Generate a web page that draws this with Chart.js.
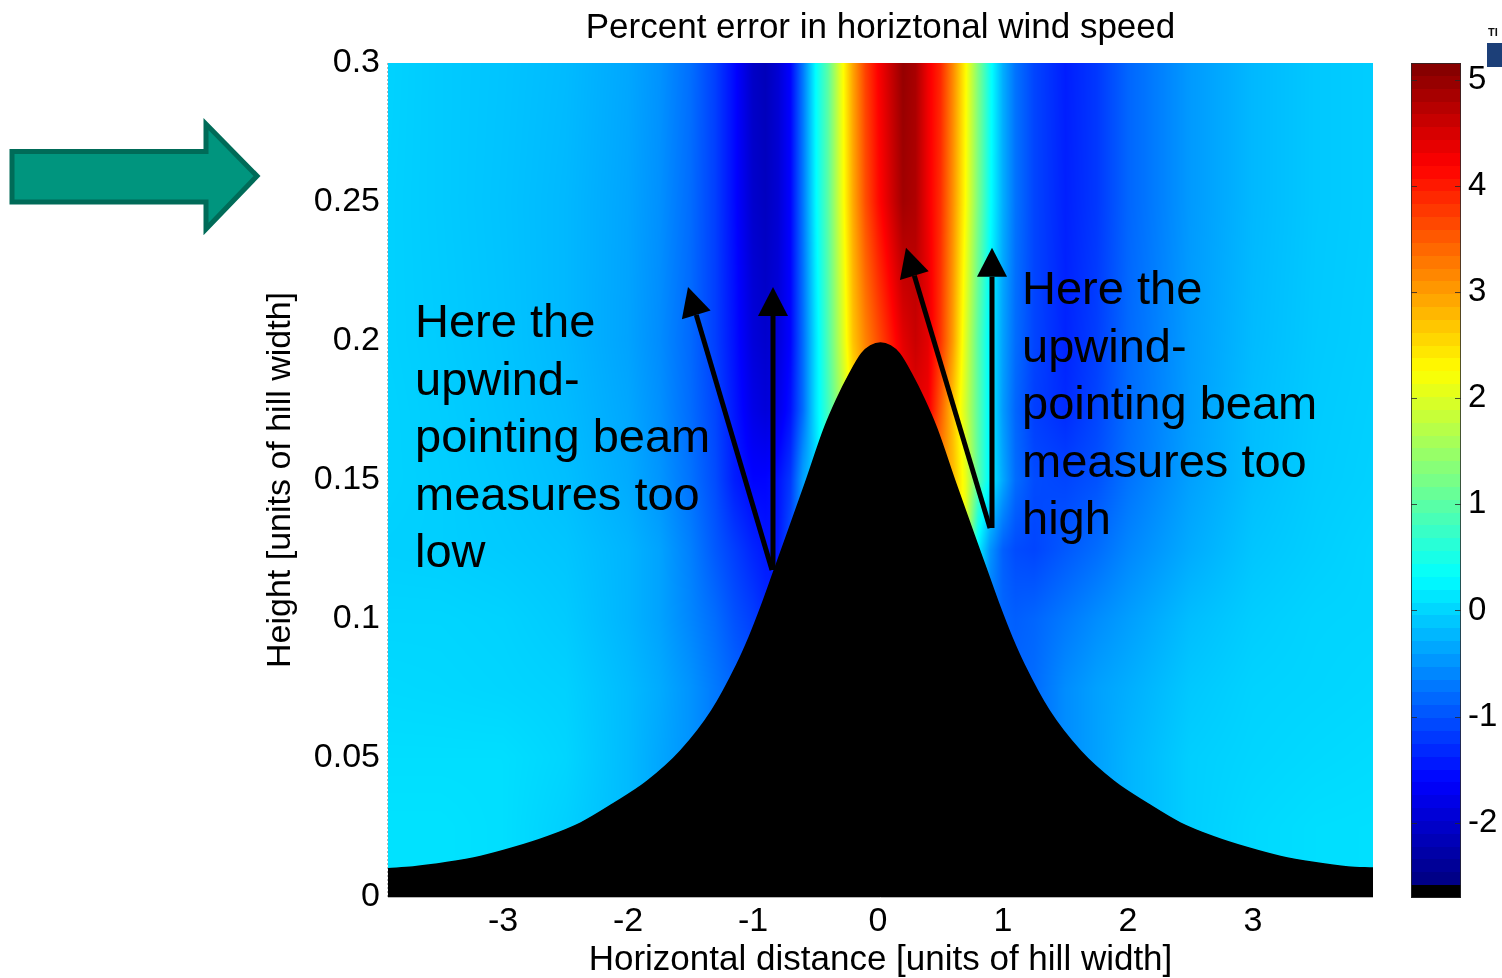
<!DOCTYPE html>
<html>
<head>
<meta charset="utf-8">
<title>Percent error in horiztonal wind speed</title>
<script src="https://cdn.jsdelivr.net/npm/chart.js@4.4.1/dist/chart.umd.min.js"></script>
<style>
  html, body { margin: 0; padding: 0; background: #fff; overflow: hidden; }
  #wrap { position: relative; width: 1502px; height: 978px; }
  #wrap canvas { position: absolute; top: 0; }
  #main { left: 0; }
  #cbar { left: 1400px; }
  #pointer { position: absolute; left: 0; top: 0; }
  #corner-tag { position: absolute; left: 1488px; top: 26px; font: bold 11px 'Liberation Sans', Arial, sans-serif; color: #111; }
  #corner-box { position: absolute; left: 1487px; top: 43px; width: 15px; height: 24px; background: #1c3f78; }
</style>
</head>
<body>
<div id="wrap">
  <svg id="pointer" width="270" height="240" viewBox="0 0 270 240">
    <polygon points="12,151.5 206,151.5 206,124 257,176 206,229 206,202 12,202"
             fill="#00957e" stroke="#006b58" stroke-width="5" stroke-linejoin="miter"/>
  </svg>
  <canvas id="main" width="1502" height="978"></canvas>
  <canvas id="cbar" width="102" height="978"></canvas>
  <div id="corner-tag">TI</div>
  <div id="corner-box"></div>
</div>
<script>
// ---- axes ----
const xMin = -3.92, xMax = 3.96;
const yMin = 0, yMax = 0.3;
const xTicks = [-3, -2, -1, 0, 1, 2, 3];
const xTickLabels = ['-3', '-2', '-1', '0', '1', '2', '3'];
const yTicks = [0, 0.05, 0.1, 0.15, 0.2, 0.25, 0.3];
const yTickLabels = ['0', '0.05', '0.1', '0.15', '0.2', '0.25', '0.3'];

// ---- colour scale (percent error) ----
const cbMin = -2.71, cbMax = 5.16;
const cbTicks = [-2, -1, 0, 1, 2, 3, 4, 5];
const cbTickLabels = ['-2', '-1', '0', '1', '2', '3', '4', '5'];

// ---- hill profile: horizontal distance vs height ----
const hillX = [-3.92, -3.72, -3.45, -3.18, -2.92, -2.65, -2.38, -2.12, -1.85, -1.58, -1.33, -1.13, -1.03, -0.93, -0.83, -0.73, -0.58, -0.43, -0.33, -0.23, -0.13, -0.06, 0.02,
               0.10, 0.17, 0.27, 0.37, 0.47, 0.62, 0.77, 0.87, 0.97, 1.07, 1.17, 1.37, 1.62, 1.89, 2.16, 2.42, 2.69, 2.96, 3.22, 3.49, 3.76, 3.96];
const hillH = [0.0102, 0.0108, 0.0124, 0.0146, 0.0177, 0.0216, 0.0266, 0.0335, 0.0415, 0.0525, 0.0670, 0.0835, 0.0935, 0.1050, 0.1175, 0.1300, 0.1490, 0.1685, 0.1790, 0.1880, 0.1955, 0.1982, 0.1993,
               0.1982, 0.1955, 0.1880, 0.1790, 0.1685, 0.1490, 0.1300, 0.1175, 0.1050, 0.0935, 0.0835, 0.0670, 0.0525, 0.0415, 0.0335, 0.0266, 0.0216, 0.0177, 0.0146, 0.0124, 0.0108, 0.0104];

// ---- error field: node positions ----
const gridX = [-3.92, -3.5, -3.0, -2.5, -2.0, -1.75, -1.5, -1.3, -1.15, -1.0, -0.9, -0.8, -0.7, -0.6, -0.5, -0.4, -0.3, -0.2, -0.1, 0.0, 0.1, 0.2, 0.3, 0.4, 0.5, 0.6, 0.7, 0.8, 0.9, 1.0, 1.1, 1.25, 1.5, 1.75, 2.0, 2.5, 3.0, 3.5, 3.96];
const gridH = [0, 0.025, 0.05, 0.075, 0.1, 0.125, 0.15, 0.175, 0.2, 0.25, 0.3];

// ---- error field: percent error along each height ----
const errH000 = [0.1, 0.1, 0.07, -0.04, -0.2, -0.35, -0.5, -0.7, -0.85, -1.0, -1.1, -1.2, -1.0, -0.4, 0.0, 0.8, 1.5, 2.2, 2.8, 3.2, 3.5, 3.7, 3.7, 3.5, 3.2, 2.8, 2.1, 0.2, -0.7, -0.8, -0.85, -0.8, -0.55, -0.4, -0.25, -0.05, 0.03, 0.07, 0.08];
const errH025 = [0.1, 0.1, 0.07, -0.04, -0.2, -0.35, -0.5, -0.7, -0.85, -1.0, -1.1, -1.2, -1.0, -0.4, 0.0, 0.8, 1.5, 2.2, 2.8, 3.2, 3.5, 3.7, 3.7, 3.5, 3.2, 2.8, 2.1, 0.2, -0.7, -0.8, -0.85, -0.8, -0.55, -0.4, -0.25, -0.05, 0.03, 0.07, 0.08];
const errH050 = [0.07, 0.07, 0.07, 0.0, -0.2, -0.35, -0.5, -0.7, -0.85, -1.0, -1.1, -1.2, -1.0, -0.4, 0.0, 0.8, 1.5, 2.2, 2.8, 3.2, 3.5, 3.7, 3.7, 3.5, 3.2, 2.8, 2.1, 0.2, -0.7, -0.8, -0.85, -0.8, -0.55, -0.4, -0.25, -0.05, 0.0, 0.03, 0.05];
const errH075 = [0.03, 0.02, 0.0, -0.03, -0.2, -0.32, -0.5, -0.7, -0.85, -1.0, -1.1, -1.2, -1.0, -0.4, 0.0, 0.8, 1.5, 2.2, 2.8, 3.2, 3.5, 3.7, 3.7, 3.5, 3.2, 2.8, 2.1, 0.2, -0.7, -0.8, -0.85, -0.8, -0.55, -0.4, -0.3, -0.1, -0.02, 0.0, 0.02];
const errH100 = [0.0, 0.0, -0.02, -0.08, -0.25, -0.38, -0.6, -0.8, -1.0, -1.15, -1.3, -1.4, -1.0, -0.4, 0.0, 0.8, 1.5, 2.2, 2.8, 3.2, 3.5, 3.7, 3.7, 3.5, 3.2, 2.8, 2.1, 0.2, -0.7, -0.85, -0.9, -0.85, -0.7, -0.55, -0.42, -0.18, -0.06, -0.01, 0.0];
const errH125 = [-0.04, -0.05, -0.08, -0.12, -0.25, -0.38, -0.65, -0.95, -1.15, -1.35, -1.45, -1.45, -1.0, -0.4, 0.0, 0.8, 1.5, 2.2, 2.8, 3.2, 3.5, 3.7, 3.7, 3.5, 3.2, 2.8, 2.1, 0.2, -0.5, -0.9, -1.05, -1.1, -0.95, -0.8, -0.6, -0.32, -0.12, -0.05, 0.0];
const errH150 = [-0.02, -0.05, -0.1, -0.17, -0.32, -0.48, -0.75, -1.05, -1.4, -1.6, -1.6, -1.5, -1.2, -0.4, 0.0, 0.8, 1.5, 2.2, 2.8, 3.2, 3.5, 3.7, 3.7, 3.5, 3.2, 2.8, 2.1, 1.0, 0.2, -0.35, -0.8, -1.05, -1.1, -1.0, -0.75, -0.4, -0.17, -0.07, -0.03];
const errH175 = [-0.02, -0.06, -0.12, -0.2, -0.35, -0.52, -0.8, -1.1, -1.45, -1.8, -1.9, -1.8, -1.5, -0.8, 0.1, 0.8, 1.6, 2.4, 3.0, 3.4, 3.8, 4.2, 4.4, 4.3, 3.5, 2.7, 1.9, 1.0, 0.2, -0.45, -0.85, -1.15, -1.3, -1.1, -0.8, -0.42, -0.18, -0.08, -0.04];
const errH200 = [-0.03, -0.07, -0.13, -0.22, -0.38, -0.55, -0.82, -1.15, -1.5, -1.9, -2.0, -1.9, -1.6, -0.8, 0.1, 0.9, 1.8, 2.7, 3.2, 3.6, 4.0, 4.4, 4.6, 4.4, 3.8, 3.0, 2.0, 1.0, 0.2, -0.4, -0.8, -1.1, -1.35, -1.15, -0.82, -0.43, -0.2, -0.09, -0.05];
const errH250 = [-0.03, -0.08, -0.14, -0.22, -0.37, -0.52, -0.8, -1.15, -1.55, -2.0, -2.1, -1.95, -1.6, -0.72, 0.25, 1.0, 2.0, 2.9, 3.6, 4.1, 4.5, 4.9, 4.8, 4.3, 3.85, 3.1, 2.25, 1.25, 0.35, -0.3, -0.75, -1.1, -1.38, -1.2, -0.85, -0.45, -0.22, -0.1, -0.06];
const errH300 = [-0.02, -0.08, -0.13, -0.2, -0.35, -0.5, -0.78, -1.15, -1.55, -2.05, -2.15, -1.95, -1.6, -0.7, 0.3, 1.0, 2.05, 2.95, 3.7, 4.2, 4.6, 5.0, 4.85, 4.3, 3.9, 3.15, 2.3, 1.3, 0.4, -0.3, -0.75, -1.1, -1.4, -1.2, -0.85, -0.45, -0.22, -0.1, -0.06];

// ---- beam arrows: tail and tip (distance, height) ----
const arrowTailX = [-0.848, -0.84, 0.896, 0.912];
const arrowTailH = [0.1176, 0.1176, 0.1327, 0.1327];
const arrowTipX  = [-1.52, -0.84, 0.224, 0.912];
const arrowTipH  = [0.2194, 0.2194, 0.2335, 0.2335];

// ---- annotation text ----
const noteLow  = ['Here the', 'upwind-', 'pointing beam', 'measures too', 'low'];
const noteHigh = ['Here the', 'upwind-', 'pointing beam', 'measures too', 'high'];

const titleText = 'Percent error in horiztonal wind speed';
const xTitle = 'Horizontal distance [units of hill width]';
const yTitle = 'Height [units of hill width]';

const errorGrid = [errH000, errH025, errH050, errH075, errH100, errH125, errH150, errH175, errH200, errH250, errH300];

Chart.defaults.font.family = "'Liberation Sans', Arial, Helvetica, sans-serif";
Chart.defaults.color = '#000';

// MATLAB-style jet, t in [0, 1]
function jet(t) {
  t = Math.min(1, Math.max(0, t));
  const c = u => Math.round(255 * Math.min(1, Math.max(0, u)));
  return [c(1.5 - Math.abs(4 * t - 3)), c(1.5 - Math.abs(4 * t - 2)), c(1.5 - Math.abs(4 * t - 1))];
}
// lowest colormap slot is black (terrain); the rest spans jet
const nSlots = 65;
const slot = (cbMax - cbMin) / nSlots;
const cLo = cbMin + slot, cHi = cbMax;

function bracket(arr, v) {
  let i = 0;
  while (i < arr.length - 2 && v > arr[i + 1]) i++;
  const f = Math.min(1, Math.max(0, (v - arr[i]) / (arr[i + 1] - arr[i])));
  return [i, f];
}

// shaded error field behind the terrain
const fieldPlugin = {
  id: 'errorField',
  beforeDatasetsDraw(chart) {
    const { ctx, chartArea: a, scales: { x, y } } = chart;
    const w = Math.round(a.right - a.left), h = Math.round(a.bottom - a.top);
    const off = document.createElement('canvas');
    off.width = w; off.height = h;
    const octx = off.getContext('2d');
    const img = octx.createImageData(w, h);
    const colI = new Int32Array(w), colF = new Float32Array(w);
    for (let p = 0; p < w; p++) {
      const [i, f] = bracket(gridX, x.getValueForPixel(a.left + p + 0.5));
      colI[p] = i; colF[p] = f;
    }
    for (let q = 0; q < h; q++) {
      const [k, fy] = bracket(gridH, y.getValueForPixel(a.top + q + 0.5));
      const r0 = errorGrid[k], r1 = errorGrid[k + 1];
      for (let p = 0; p < w; p++) {
        const i = colI[p], fx = colF[p];
        const v0 = r0[i] + (r0[i + 1] - r0[i]) * fx;
        const v1 = r1[i] + (r1[i + 1] - r1[i]) * fx;
        const v = v0 + (v1 - v0) * fy;
        const [R, G, B] = jet((v - cLo) / (cHi - cLo));
        const o = (q * w + p) * 4;
        img.data[o] = R; img.data[o + 1] = G; img.data[o + 2] = B; img.data[o + 3] = 255;
      }
    }
    octx.putImageData(img, 0, 0);
    ctx.save();
    ctx.drawImage(off, a.left, a.top, w, h);
    ctx.restore();
  }
};

// beam arrows and text notes over the field
const overlayPlugin = {
  id: 'overlay',
  afterDatasetsDraw(chart, args, opts) {
    const { ctx, scales: { x, y } } = chart;
    ctx.save();
    ctx.fillStyle = '#000';
    ctx.strokeStyle = '#000';
    ctx.lineWidth = 5;
    ctx.lineCap = 'butt';
    for (let n = 0; n < arrowTailX.length; n++) {
      const x0 = x.getPixelForValue(arrowTailX[n]), y0 = y.getPixelForValue(arrowTailH[n]);
      const x1 = x.getPixelForValue(arrowTipX[n]), y1 = y.getPixelForValue(arrowTipH[n]);
      const ang = Math.atan2(y1 - y0, x1 - x0);
      const len = opts.headLength, half = opts.headHalfWidth;
      const bx = x1 - len * Math.cos(ang), by = y1 - len * Math.sin(ang);
      ctx.beginPath(); ctx.moveTo(x0, y0); ctx.lineTo(bx, by); ctx.stroke();
      ctx.beginPath();
      ctx.moveTo(x1, y1);
      ctx.lineTo(bx + half * Math.sin(ang), by - half * Math.cos(ang));
      ctx.lineTo(bx - half * Math.sin(ang), by + half * Math.cos(ang));
      ctx.closePath(); ctx.fill();
    }
    ctx.font = opts.noteFont;
    ctx.textAlign = 'left';
    ctx.textBaseline = 'alphabetic';
    for (const note of opts.notes) {
      const px = x.getPixelForValue(note.x), py = y.getPixelForValue(note.y);
      note.lines.forEach((s, i) => ctx.fillText(s, px, py + i * opts.lineStep));
    }
    ctx.restore();
  },
  afterDraw(chart) {
    const { ctx, chartArea: a } = chart;
    ctx.save();
    ctx.strokeStyle = '#b4b4b4';
    ctx.lineWidth = 1;
    ctx.setLineDash([2, 2]);
    ctx.beginPath(); ctx.moveTo(a.left - 0.5, a.top); ctx.lineTo(a.left - 0.5, a.bottom); ctx.stroke();
    ctx.setLineDash([]);
    ctx.beginPath(); ctx.moveTo(a.left, a.bottom + 0.5); ctx.lineTo(a.right, a.bottom + 0.5); ctx.stroke();
    ctx.restore();
  }
};

new Chart(document.getElementById('main'), {
  type: 'scatter',
  data: {
    datasets: [{
      type: 'line',
      label: 'Hill',
      data: hillX.map((v, i) => ({ x: v, y: hillH[i] })),
      borderColor: '#000',
      backgroundColor: '#000',
      borderWidth: 1.5,
      fill: 'origin',
      pointRadius: 0,
      cubicInterpolationMode: 'monotone'
    }]
  },
  options: {
    responsive: false,
    animation: false,
    events: [],
    layout: { padding: { left: 250, right: 129, top: 0, bottom: 0 } },
    plugins: {
      legend: { display: false },
      tooltip: { enabled: false },
      title: {
        display: true, text: titleText, fullSize: false,
        font: { size: 35, weight: 'normal' }, color: '#000',
        padding: { top: 7, bottom: 14 }
      },
      overlay: {
        headLength: 29, headHalfWidth: 15,
        noteFont: "47px 'Liberation Sans', Arial, sans-serif",
        lineStep: 57.5,
        notes: [
          { x: -3.704, y: 0.2014, lines: noteLow },
          { x: 1.152, y: 0.2133, lines: noteHigh }
        ]
      }
    },
    scales: {
      x: {
        type: 'linear', min: xMin, max: xMax,
        afterBuildTicks: s => { s.ticks = xTicks.map(v => ({ value: v })); },
        afterFit: s => { s.height = 81; },
        grid: { display: false, drawTicks: false },
        border: { display: false },
        ticks: { padding: 4, font: { size: 34 }, color: '#000', maxRotation: 0, autoSkip: false,
                 callback: (v, i) => xTickLabels[i] },
        title: { display: true, text: xTitle, font: { size: 35 }, color: '#000', padding: { top: 0, bottom: -3 } }
      },
      y: {
        type: 'linear', min: yMin, max: yMax,
        afterBuildTicks: s => { s.ticks = yTicks.map(v => ({ value: v })); },
        afterFit: s => { s.width = 138; },
        grid: { display: false, drawTicks: false },
        border: { display: false },
        ticks: { padding: 8, font: { size: 34 }, color: '#000', autoSkip: false,
                 callback: (v, i) => yTickLabels[i] },
        title: { display: true, text: yTitle, font: { size: 34 }, color: '#000', padding: { top: 10, bottom: 0 } }
      }
    }
  },
  plugins: [fieldPlugin, overlayPlugin]
});

// colour bar
const colorbarPlugin = {
  id: 'colorbar',
  beforeDatasetsDraw(chart) {
    const { ctx, chartArea: a, scales: { y } } = chart;
    ctx.save();
    for (let i = 0; i < nSlots; i++) {
      const lo = cbMin + i * slot, hi = lo + slot;
      const yTop = Math.round(y.getPixelForValue(hi)), yBot = Math.round(y.getPixelForValue(lo));
      const rgb = i === 0 ? [0, 0, 0] : jet((i - 0.5) / (nSlots - 1));
      ctx.fillStyle = `rgb(${rgb[0]},${rgb[1]},${rgb[2]})`;
      ctx.fillRect(a.left, yTop, a.right - a.left, yBot - yTop);
    }
    ctx.strokeStyle = 'rgba(40,40,40,0.8)';
    ctx.lineWidth = 1;
    for (const v of cbTicks) {
      const py = Math.round(y.getPixelForValue(v)) + 0.5;
      ctx.beginPath();
      ctx.moveTo(a.left, py); ctx.lineTo(a.left + 6, py);
      ctx.moveTo(a.right - 6, py); ctx.lineTo(a.right, py);
      ctx.stroke();
    }
    ctx.strokeRect(a.left + 0.5, a.top + 0.5, a.right - a.left - 1, a.bottom - a.top - 1);
    ctx.restore();
  }
};

new Chart(document.getElementById('cbar'), {
  type: 'scatter',
  data: { datasets: [] },
  options: {
    responsive: false,
    animation: false,
    events: [],
    layout: { padding: { left: 11, right: 0, top: 63, bottom: 80 } },
    plugins: { legend: { display: false }, tooltip: { enabled: false } },
    scales: {
      x: { display: false, min: 0, max: 1 },
      y: {
        position: 'right', min: cbMin, max: cbMax,
        afterBuildTicks: s => { s.ticks = cbTicks.map(v => ({ value: v })); },
        afterFit: s => { s.width = 41; },
        grid: { display: false, drawTicks: false },
        border: { display: false },
        ticks: { padding: 7, font: { size: 33 }, color: '#000', autoSkip: false,
                 callback: (v, i) => cbTickLabels[i] }
      }
    }
  },
  plugins: [colorbarPlugin]
});
</script>
</body>
</html>
